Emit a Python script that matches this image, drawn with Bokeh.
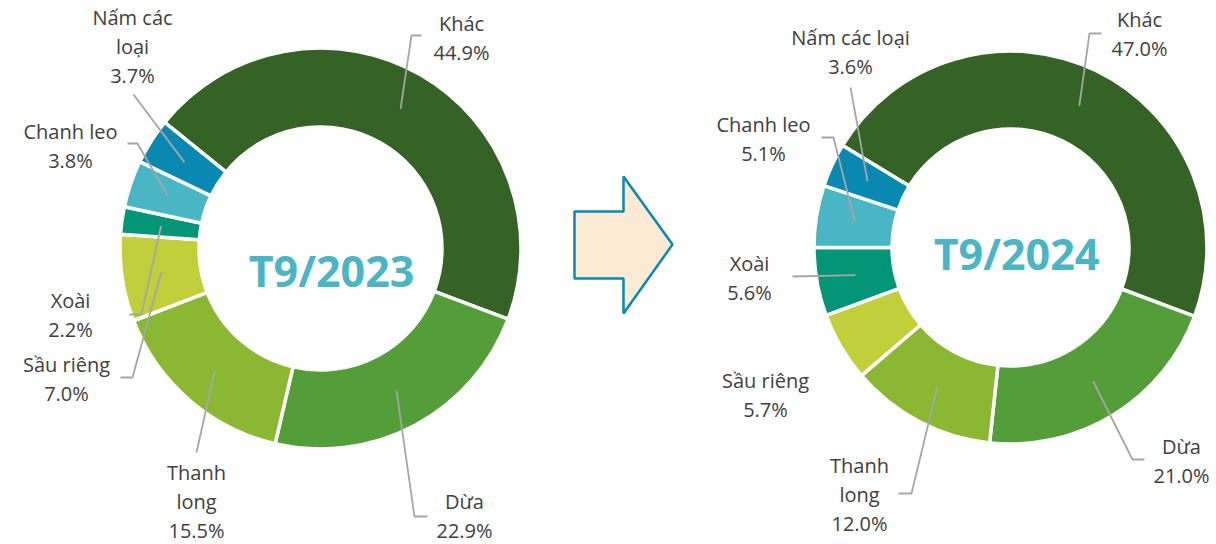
import math
from bokeh.plotting import figure
from bokeh.models import Range1d
from bokeh.core.properties import value
from bokeh.embed import file_html
from bokeh.resources import INLINE

# ---------------- data ----------------
categories = ["Khác", "Dừa", "Thanh long", "Sầu riêng", "Xoài", "Chanh leo", "Nấm các loại"]
share_2023 = [44.9, 22.9, 15.5, 7.0, 2.2, 3.8, 3.7]
share_2024 = [47.0, 21.0, 12.0, 5.7, 5.6, 5.1, 3.6]
titles = ["T9/2023", "T9/2024"]

# ---------------- styles / layout ----------------
colors = ["#356325", "#549E39", "#8AB833", "#C0CF3A", "#029676", "#4AB5C4", "#0989B1"]
W, H = 1216, 544
TEXT = "#404040"
LEADER = "#A6A6A6"
FONT = "Open Sans"
LH = 29  # label line height

def Y(py):
    # pixel y (from top) -> data y
    return H - py

p = figure(width=W, height=H, output_backend="svg", toolbar_location=None,
           x_range=Range1d(0, W), y_range=Range1d(0, H),
           min_border=0, outline_line_color=None,
           x_axis_location=None, y_axis_location=None)
p.grid.visible = False
p.background_fill_color = "white"
p.border_fill_color = "white"

charts = [
    dict(vals=share_2023, cx=320, cy=248, R=199, r=123, start=-51.0, title_xy=(331, 270),
         labels={
             "Khác": (["Khác"], 461, 23),
             "Dừa": (["Dừa"], 464, 501),
             "Thanh long": (["Thanh", "long"], 196, 472),
             "Sầu riêng": (["Sầu riêng"], 66, 364),
             "Xoài": (["Xoài"], 70, 300),
             "Chanh leo": (["Chanh leo"], 70, 131),
             "Nấm các loại": (["Nấm các", "loại"], 132, 17),
         },
         leaders={
             "Khác": [(421, 35), (411, 35)],
             "Dừa": [(427, 516), (414, 516)],
             "Thanh long": [(196, 452)],
             "Sầu riêng": [(120, 377), (132, 377)],
             "Xoài": [(129, 314), (141, 314)],
             "Chanh leo": [(127, 143), (137, 143)],
             "Nấm các loại": [(133, 94)],
         }),
    dict(vals=share_2024, cx=1010, cy=247, R=195, r=120, start=-58.7, title_xy=(1016, 253),
         labels={
             "Khác": (["Khác"], 1139, 19),
             "Dừa": (["Dừa"], 1181, 446),
             "Thanh long": (["Thanh", "long"], 859, 465),
             "Sầu riêng": (["Sầu riêng"], 765, 380),
             "Xoài": (["Xoài"], 749, 263),
             "Chanh leo": (["Chanh leo"], 763, 124),
             "Nấm các loại": (["Nấm các loại"], 850, 37),
         },
         leaders={
             "Khác": [(1101, 33), (1089, 33)],
             "Dừa": [(1144, 459), (1132, 459)],
             "Thanh long": [(898, 493), (911, 493)],
             "Xoài": [(792, 276)],
             "Chanh leo": [(821, 137), (833, 137)],
             "Nấm các loại": [(850, 87)],
         }),
]

for ci, ch in enumerate(charts):
    vals = ch["vals"]
    total = sum(vals)
    cx, cy, R, r = ch["cx"], ch["cy"], ch["R"], ch["r"]
    # clockwise-from-top angles
    cum = ch["start"]
    starts, ends, mids = [], [], []
    for v in vals:
        a0 = cum
        a1 = cum + v / total * 360.0
        starts.append(a0)
        ends.append(a1)
        mids.append((a0 + a1) / 2)
        cum = a1
    # Bokeh: anticlockwise from +x
    sa = [math.radians(90 - e) for e in ends]
    ea = [math.radians(90 - s) for s in starts]
    p.annular_wedge(x=[cx] * len(vals), y=[Y(cy)] * len(vals),
                    inner_radius=r - 1.5, outer_radius=R + 1.5,
                    inner_radius_units="screen", outer_radius_units="screen",
                    start_angle=sa, end_angle=ea, direction="anticlock",
                    fill_color=colors, line_color="white", line_width=3.5)

    # leader lines (end point at slice middle)
    rm = (R + r) / 2
    for i, cat in enumerate(categories):
        if cat not in ch["leaders"]:
            continue
        pts = list(ch["leaders"][cat])
        th = math.radians(mids[i])
        ex = cx + rm * math.sin(th)
        ey = cy - rm * math.cos(th)
        pts.append((ex, ey))
        p.line(x=[q[0] for q in pts], y=[Y(q[1]) for q in pts],
               line_color=LEADER, line_width=1.8)

    # labels
    xs, ys, ts = [], [], []
    for i, cat in enumerate(categories):
        lines, lx, ly = ch["labels"][cat]
        lines = lines + [f"{vals[i]:.1f}%"]
        for k, t in enumerate(lines):
            xs.append(lx)
            ys.append(Y(ly + k * LH))
            ts.append(t)
    p.text(x=xs, y=ys, text=ts, text_align="center", text_baseline="middle",
           text_font=value(FONT), text_font_size="20px", text_color=TEXT)

    # centre title
    tx, ty = ch["title_xy"]
    p.text(x=[tx], y=[Y(ty)], text=[titles[ci]], text_align="center",
           text_baseline="middle", text_font=value(FONT), text_font_size="43px",
           text_font_style="bold", text_color="#4AB5C4")

# arrow between the charts
ax = [574, 623, 623, 672, 623, 623, 574]
ay = [211, 211, 176, 244, 313, 278, 278]
p.patch(x=ax, y=[Y(v) for v in ay], fill_color="#FBEAD4",
        line_color="#0989B1", line_width=2.5)

open("out.html", "w").write(file_html(p, INLINE))
